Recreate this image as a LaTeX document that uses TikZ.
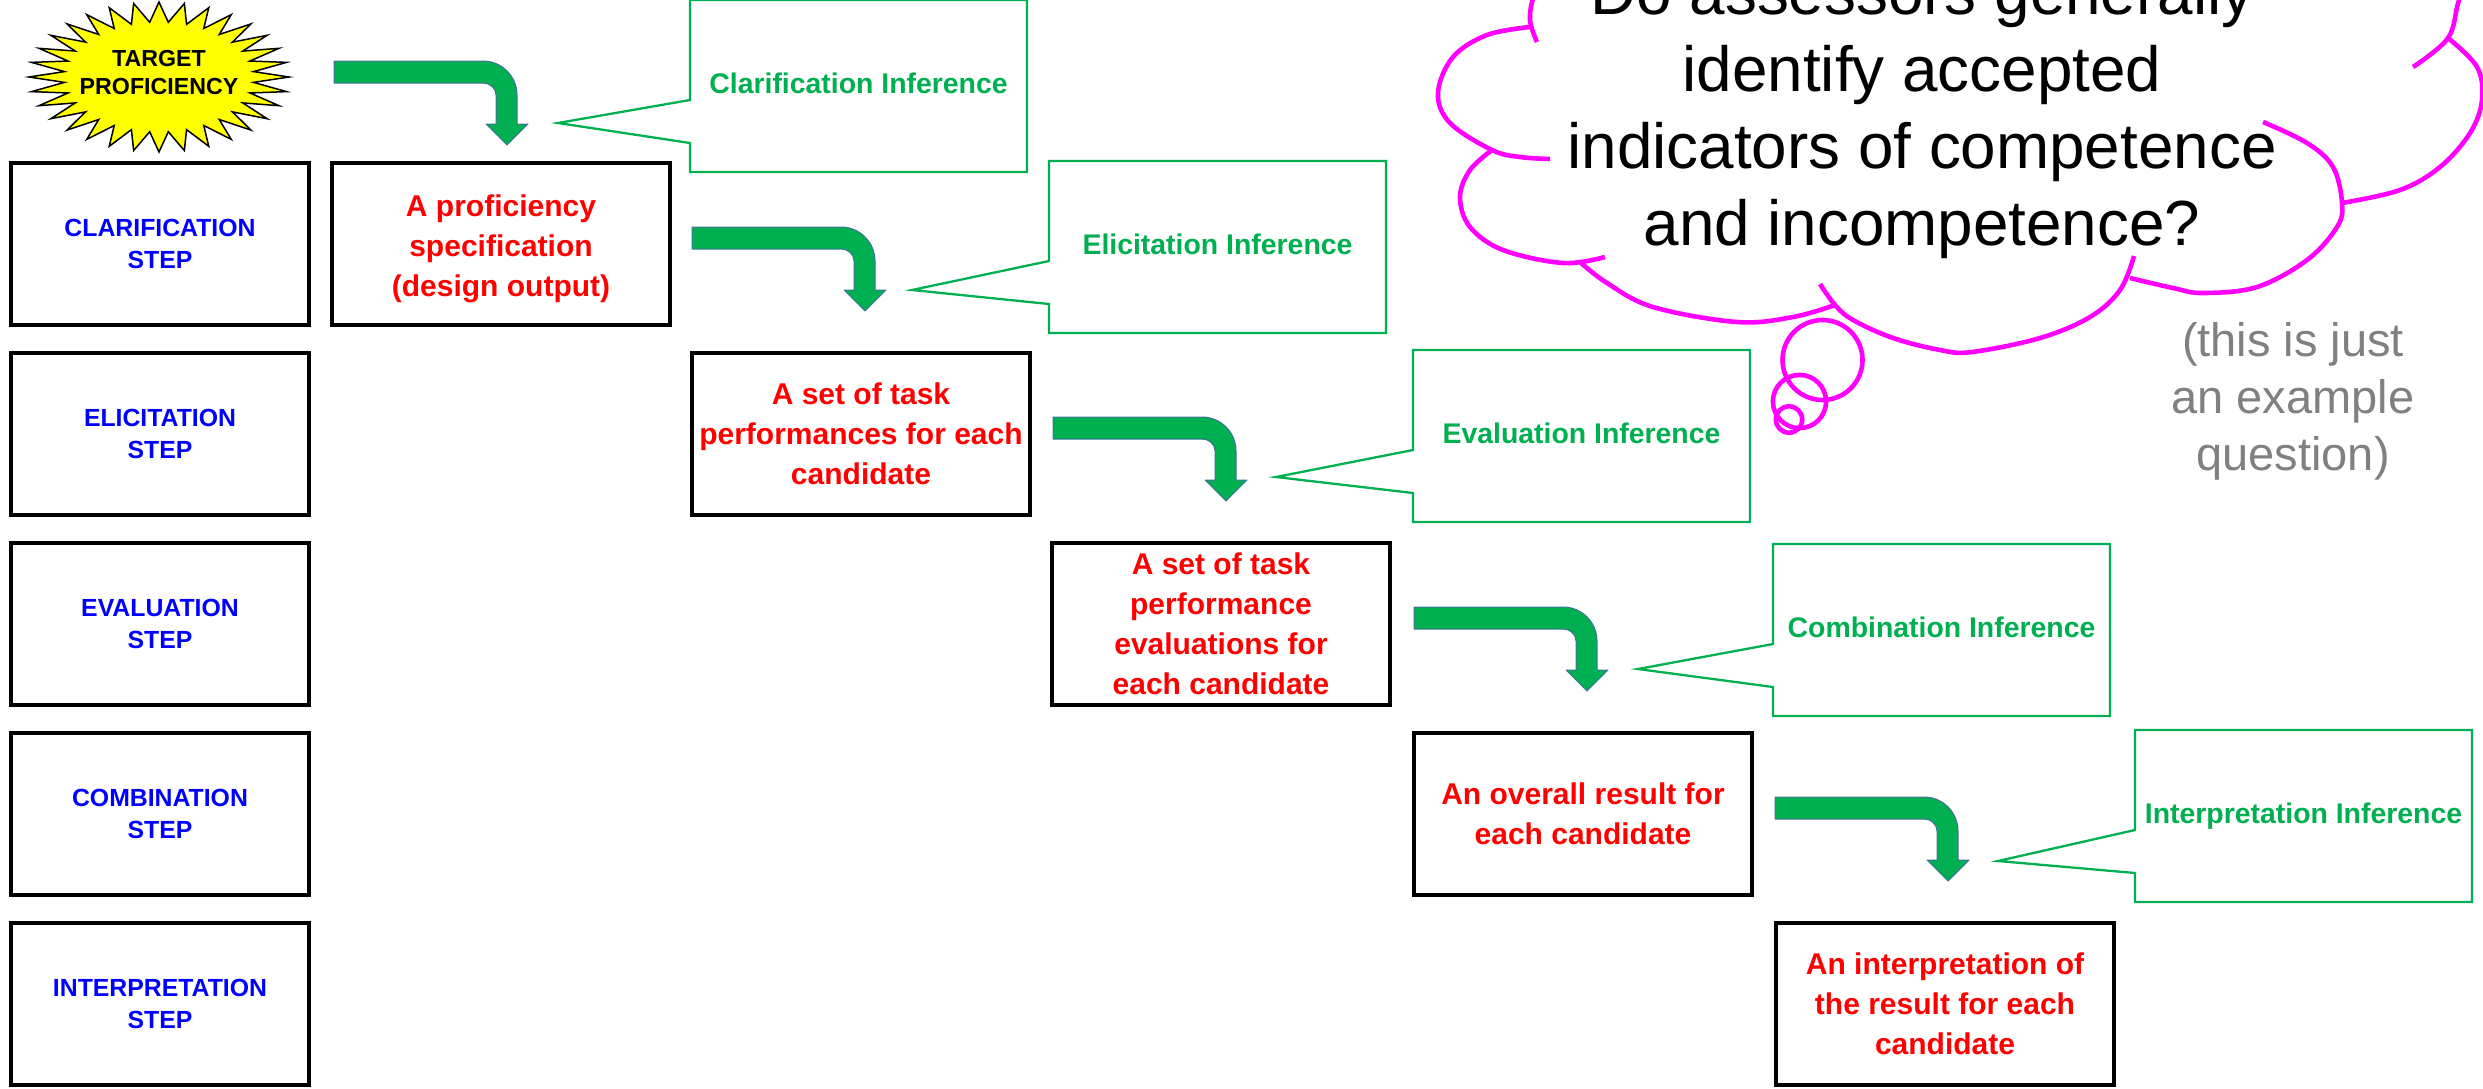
\documentclass[tikz,border=0pt]{standalone}
\usepackage{fontspec}
\setmainfont{Liberation Sans}

\definecolor{flowgreen}{HTML}{00B050}
\definecolor{arrowedge}{HTML}{41719C}
\definecolor{stepblue}{HTML}{0000FF}
\definecolor{outred}{HTML}{FF0000}
\definecolor{cloudpink}{HTML}{FF00FF}
\definecolor{notegray}{HTML}{808080}
\definecolor{staryellow}{HTML}{FFFF00}

% callout: left, top, tip name, node name, text
\newcommand\inferencecallout[5]{%
  \draw[callframe] (#1,#2) -- (#1+337,#2) -- (#1+337,#2+172) -- (#1,#2+172)
    -- (#1,#2+143) -- (#3) -- (#1,#2+100) -- cycle;
  \node[calltext] (#4) at (#1+168.5,#2+93) {#5};
}

\begin{document}
\begin{tikzpicture}[x=0.5pt,y=-0.5pt,
  stepbox/.style={draw=black, line width=1.75pt, minimum width=149pt,
    minimum height=81pt, inner sep=0pt, align=center, text=stepblue,
    font=\fontsize{12.4}{16}\selectfont\bfseries},
  outbox/.style={draw=black, line width=1.75pt, minimum width=169pt,
    minimum height=81pt, inner sep=0pt, align=center, text=outred,
    font=\fontsize{15}{20}\selectfont\bfseries},
  calltext/.style={text=flowgreen, font=\fontsize{14.2}{17}\selectfont\bfseries,
    inner sep=0pt, anchor=base},
  callframe/.style={draw=flowgreen, line width=1.15pt, fill=white, line join=miter},
  bendarrow/.style={fill=flowgreen, draw=arrowedge, line width=0.5pt, line join=round},
  cloudline/.style={draw=cloudpink, line width=2.3pt},
  bentarrow/.pic={
    \path[bendarrow] (0,0) -- (149,0) .. controls (167.8,0) and (183,15.2) .. (183,34)
      -- (183,63) -- (194,63) -- (173,84) -- (152,63) -- (162,63) -- (162,34)
      .. controls (162,27.4) and (156.2,22) .. (149,22) -- (0,22) -- cycle;
  },
]
\useasboundingbox (0,0) rectangle (2483,1088);

% target burst
\filldraw[fill=staryellow, draw=black, line width=0.75pt]
  plot[samples at={0,1,...,63}, variable=\i]
  ({159+(130-35*mod(\i,2))*cos(\i*5.625)}, {77+(75-20*mod(\i,2))*sin(\i*5.625)}) -- cycle;
\node[font=\fontsize{11.6}{14}\selectfont\bfseries, align=center, inner sep=0pt]
  (target) at (159,73) {TARGET\\PROFICIENCY};

% step column
\node[stepbox] (s1) at (160,244) {CLARIFICATION\\STEP};
\node[stepbox] (s2) at (160,434) {ELICITATION\\STEP};
\node[stepbox] (s3) at (160,624) {EVALUATION\\STEP};
\node[stepbox] (s4) at (160,814) {COMBINATION\\STEP};
\node[stepbox] (s5) at (160,1004) {INTERPRETATION\\STEP};

% outputs
\node[outbox] (o1) at (501,244) {\rule{0pt}{16pt}A proficiency\\specification\\(design output)};
\node[outbox] (o2) at (861,434) {A set of task\\performances for each\\candidate};
\node[outbox] (o3) at (1221,624) {A set of task\\performance\\evaluations for\\each candidate};
\node[outbox] (o4) at (1583,814) {An overall result for\\each candidate};
\node[outbox] (o5) at (1945,1004) {An interpretation of\\the result for each\\candidate};

% bent arrows
\pic (a1) at (334,61) {bentarrow};
\pic (a2) at (692,227) {bentarrow};
\pic (a3) at (1053,417) {bentarrow};
\pic (a4) at (1414,607) {bentarrow};
\pic (a5) at (1775,797) {bentarrow};

% inference callouts
\coordinate (tip1) at (558,123);
\coordinate (tip2) at (912,290);
\coordinate (tip3) at (1276,477);
\coordinate (tip4) at (1638,669);
\coordinate (tip5) at (1998,861);
\inferencecallout{690}{0}{tip1}{c1}{Clarification Inference}
\inferencecallout{1049}{161}{tip2}{c2}{Elicitation Inference}
\inferencecallout{1413}{350}{tip3}{c3}{Evaluation Inference}
\inferencecallout{1773}{544}{tip4}{c4}{Combination Inference}
\inferencecallout{2135}{730}{tip5}{c5}{Interpretation Inference}

% thought cloud
\draw[cloudline] plot[smooth, tension=0.6] coordinates
  {(1548,-40) (1534,-5) (1530,20) (1537,42)};
\draw[cloudline] plot[smooth, tension=0.6] coordinates
  {(1530,27) (1487,35) (1453,57) (1438,93) (1450,123) (1492,150) (1520,157) (1550,159)};
\draw[cloudline] plot[smooth, tension=0.6] coordinates
  {(1492,150) (1470,170) (1460,197) (1470,227) (1503,250) (1563,263) (1605,257)};
\draw[cloudline] plot[smooth, tension=0.6] coordinates
  {(1580,262) (1607,283) (1653,307) (1737,322) (1793,317) (1835,305)};
\draw[cloudline] plot[smooth, tension=0.6] coordinates
  {(1820,284) (1835,305) (1853,320) (1893,338) (1940,350) (1972,352) (2040,338) (2090,317) (2120,290) (2134,256)};
\draw[cloudline] plot[smooth, tension=0.6] coordinates
  {(2130,278) (2173,288) (2203,293) (2257,287) (2307,260) (2337,227) (2342,203) (2333,167) (2307,143) (2263,122)};
\draw[cloudline] plot[smooth, tension=0.6] coordinates
  {(2342,203) (2400,190) (2440,167) (2470,133) (2482,100) (2477,67) (2448,38)};
\draw[cloudline] plot[smooth, tension=0.6] coordinates
  {(2475,-40) (2459,0) (2448,38) (2413,67)};

% thought bubbles
\draw[cloudline] (1822.5,360) circle[radius=20pt];
\draw[cloudline] (1799.5,401.5) circle[radius=13.3pt];
\draw[cloudline] (1789,419.5) circle[radius=6.6pt];

% question text, placed by the baseline of its last line
\node[font=\fontsize{31.9}{38.5}\selectfont, align=center, inner sep=0pt, anchor=base]
  (question) at (1922,245) {Do assessors generally\\identify accepted\\indicators of competence\\and incompetence?};

\node[font=\fontsize{23.5}{28.3}\selectfont, text=notegray, align=center, inner sep=0pt, anchor=base]
  (note) at (2293,470) {(this is just\\an example\\question)};
\end{tikzpicture}
\end{document}
